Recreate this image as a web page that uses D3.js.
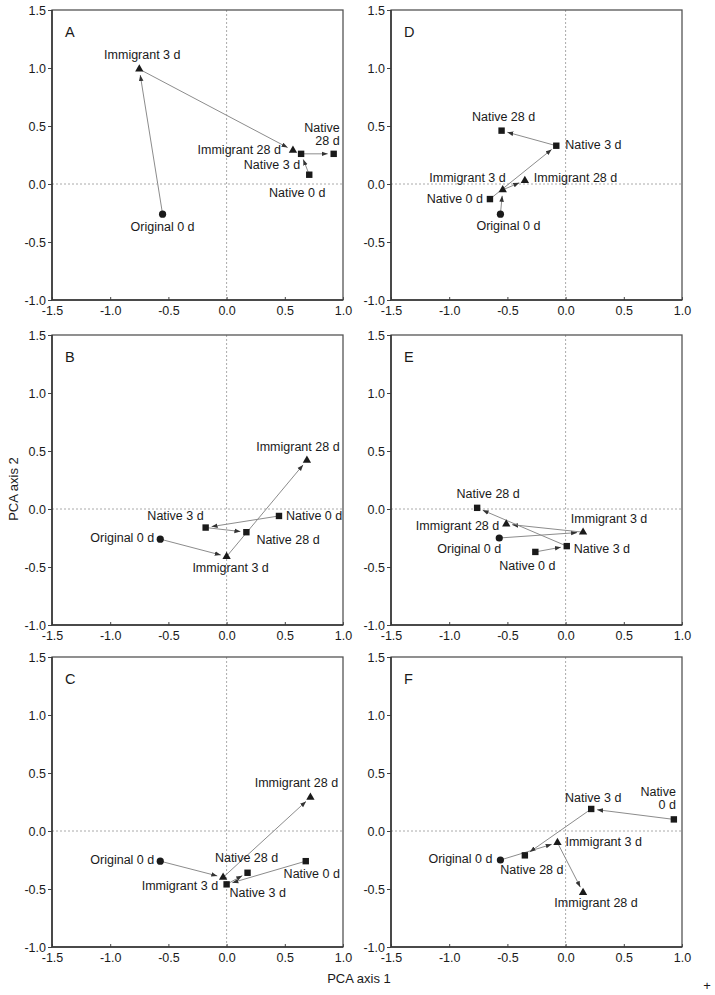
<!DOCTYPE html>
<html>
<head>
<meta charset="utf-8">
<script src="https://cdn.jsdelivr.net/npm/d3@7"></script>
<style>
  html, body { margin: 0; padding: 0; background: #fff; }
  svg { display: block; }
  text { font-family: "Liberation Sans", Arial, Helvetica, sans-serif; fill: #1a1a1a; }
</style>
</head>
<body>
<script>
// ---------------- data ----------------
const panelNames = ["A", "B", "C", "D", "E", "F"];
const sampleNames = ["Original 0 d", "Immigrant 3 d", "Immigrant 28 d", "Native 0 d", "Native 3 d", "Native 28 d"];
const sampleGroup = ["Original", "Immigrant", "Immigrant", "Native", "Native", "Native"];
// order of points: Original 0 d, Immigrant 3 d, Immigrant 28 d, Native 0 d, Native 3 d, Native 28 d
const axis1A = [-0.55, -0.75, 0.57, 0.71, 0.64, 0.92];
const axis2A = [-0.26, 0.99, 0.29, 0.08, 0.26, 0.26];
const axis1B = [-0.57, 0.00, 0.69, 0.45, -0.18, 0.17];
const axis2B = [-0.26, -0.41, 0.42, -0.06, -0.16, -0.20];
const axis1C = [-0.57, -0.03, 0.72, 0.68, 0.00, 0.18];
const axis2C = [-0.26, -0.40, 0.29, -0.26, -0.46, -0.36];
const axis1D = [-0.56, -0.54, -0.35, -0.65, -0.08, -0.55];
const axis2D = [-0.26, -0.05, 0.03, -0.13, 0.33, 0.46];
const axis1E = [-0.57, 0.15, -0.51, -0.26, 0.01, -0.76];
const axis2E = [-0.25, -0.20, -0.13, -0.37, -0.32, 0.01];
const axis1F = [-0.56, -0.07, 0.15, 0.93, 0.22, -0.35];
const axis2F = [-0.25, -0.10, -0.53, 0.10, 0.19, -0.21];
// trajectories: from index -> to index
const arrowPairs = [[0, 1], [1, 2], [3, 4], [4, 5]];
const xTicks = [-1.5, -1.0, -0.5, 0.0, 0.5, 1.0];
const yTicks = [-1.0, -0.5, 0.0, 0.5, 1.0, 1.5];
const xDomain = [-1.5, 1.0];
const yDomain = [-1.0, 1.5];
const xTitle = "PCA axis 1";
const yTitle = "PCA axis 2";

// ---------------- layout (label placement: anchor, dx, dy, wrap) ----------------
const labelLayout = {
  A: [["middle", 0, 17], ["middle", 3, -10], ["end", -12, 4], ["middle", -12, 22], ["end", -1, 15], ["end", 6, -9, true]],
  B: [["end", -6, 3], ["middle", 4, 15], ["middle", -9, -9], ["start", 7, 4], ["end", -2, -8], ["start", 10, 12]],
  C: [["end", -6, 3], ["end", -5, 13], ["middle", -14, -10], ["middle", 6, 17], ["start", 3, 13], ["middle", -1, -11]],
  D: [["middle", 8, 16], ["end", 3, -8], ["start", 9, 1], ["end", -7, 4], ["start", 9, 3], ["middle", 2, -10]],
  E: [["end", 2, 15], ["middle", 26, -9], ["end", -7, 6], ["middle", -8, 18], ["start", 7, 7], ["middle", 11, -10]],
  F: [["end", -8, 3], ["start", 8, 3], ["middle", 13, 15], ["end", 2, -10, true], ["middle", 2, -7], ["middle", 7, 19]]
};
const panelX = { A: 52, B: 52, C: 52, D: 391, E: 391, F: 391 };
const panelY = { A: 10, B: 335, C: 657, D: 10, E: 335, F: 657 };
const plotW = 291, plotH = 290;

const coords = {
  A: [axis1A, axis2A], B: [axis1B, axis2B], C: [axis1C, axis2C],
  D: [axis1D, axis2D], E: [axis1E, axis2E], F: [axis1F, axis2F]
};

// ---------------- drawing ----------------
const W = 715, H = 995;
const svg = d3.select("body").append("svg").attr("width", W).attr("height", H);

svg.append("defs").append("marker")
  .attr("id", "arrowhead")
  .attr("markerUnits", "userSpaceOnUse")
  .attr("viewBox", "0 -3 6 6")
  .attr("refX", 6).attr("refY", 0)
  .attr("markerWidth", 6).attr("markerHeight", 6)
  .attr("orient", "auto")
  .append("path").attr("d", "M0,-2.3L6,0L0,2.3Z").attr("fill", "#333");

const fontTick = 12.5, fontLabel = 12.5, wrapGap = 13;

panelNames.forEach(p => {
  const x0 = panelX[p], y0 = panelY[p];
  const x = d3.scaleLinear().domain(xDomain).range([x0, x0 + plotW]);
  const y = d3.scaleLinear().domain(yDomain).range([y0 + plotH, y0]);
  const g = svg.append("g");

  // zero reference lines
  g.append("line").attr("x1", x(0)).attr("x2", x(0)).attr("y1", y0).attr("y2", y0 + plotH)
    .attr("stroke", "#aaa").attr("stroke-width", 1).attr("stroke-dasharray", "2,2");
  g.append("line").attr("x1", x0).attr("x2", x0 + plotW).attr("y1", y(0)).attr("y2", y(0))
    .attr("stroke", "#aaa").attr("stroke-width", 1).attr("stroke-dasharray", "2,2");

  // axes
  const xAxis = d3.axisBottom(x).tickValues(xTicks).tickFormat(d3.format(".1f")).tickSize(-3).tickPadding(6);
  const yAxis = d3.axisLeft(y).tickValues(yTicks).tickFormat(d3.format(".1f")).tickSize(4).tickPadding(2);
  const gx = g.append("g").attr("transform", `translate(0,${y0 + plotH})`).call(xAxis);
  const gy = g.append("g").attr("transform", `translate(${x0},0)`).call(yAxis);
  [gx, gy].forEach(a => {
    a.select(".domain").remove();
    a.selectAll(".tick line").attr("stroke", "#444").attr("stroke-width", 1);
    a.selectAll(".tick text").attr("font-size", fontTick).attr("fill", "#1a1a1a")
      .style("font-family", '"Liberation Sans", Arial, sans-serif');
  });
  gx.selectAll(".tick text").attr("dy", "0.95em").attr("y", 3);
  gy.selectAll(".tick text").attr("dy", "0.35em");
  // format minus as hyphen like reference
  g.selectAll(".tick text").text(d => d3.format(".1f")(d).replace("−", "-"));

  // frame
  g.append("rect").attr("x", x0).attr("y", y0).attr("width", plotW).attr("height", plotH)
    .attr("fill", "none").attr("stroke", "#555").attr("stroke-width", 1.3);
  g.append("path").attr("d", `M${x0},${y0}V${y0 + plotH}H${x0 + plotW}`)
    .attr("fill", "none").attr("stroke", "#333").attr("stroke-width", 1.5);

  // panel letter
  g.append("text").attr("x", x0 + 13).attr("y", y0 + 27).attr("font-size", 14.5).text(p);

  const xs = coords[p][0], ys = coords[p][1];
  const pts = xs.map((v, i) => ({ px: x(v), py: y(ys[i]), i }));

  // arrows
  arrowPairs.forEach(([a, b]) => {
    const s = pts[a], t = pts[b];
    const dx = t.px - s.px, dy = t.py - s.py;
    const len = Math.hypot(dx, dy);
    const shorten = 6;
    const ex = t.px - dx / len * shorten, ey = t.py - dy / len * shorten;
    g.append("line").attr("x1", s.px).attr("y1", s.py).attr("x2", ex).attr("y2", ey)
      .attr("stroke", "#8c8c8c").attr("stroke-width", 1)
      .attr("marker-end", "url(#arrowhead)");
  });

  // markers
  pts.forEach(d => {
    const grp = sampleGroup[d.i];
    if (grp === "Original") {
      g.append("circle").attr("cx", d.px).attr("cy", d.py).attr("r", 3.6).attr("fill", "#1a1a1a");
    } else if (grp === "Immigrant") {
      g.append("path").attr("d", d3.symbol(d3.symbolTriangle, 30)())
        .attr("transform", `translate(${d.px},${d.py})`).attr("fill", "#1a1a1a");
    } else {
      g.append("rect").attr("x", d.px - 3.2).attr("y", d.py - 3.2).attr("width", 6.4).attr("height", 6.4)
        .attr("fill", "#1a1a1a");
    }
  });

  // labels
  pts.forEach(d => {
    const [anchor, ldx, ldy, wrap] = labelLayout[p][d.i];
    const name = sampleNames[d.i];
    const t = g.append("text").attr("font-size", fontLabel).attr("text-anchor", anchor);
    if (wrap) {
      const k = name.indexOf(" ");
      t.append("tspan").attr("x", d.px + ldx).attr("y", d.py + ldy - wrapGap).text(name.slice(0, k));
      t.append("tspan").attr("x", d.px + ldx).attr("y", d.py + ldy).text(name.slice(k + 1));
    } else {
      t.attr("x", d.px + ldx).attr("y", d.py + ldy).text(name);
    }
  });
});

// axis titles
svg.append("text").attr("x", 359).attr("y", 983).attr("text-anchor", "middle")
  .attr("font-size", 13).text(xTitle);
svg.append("text").attr("transform", "translate(18,489) rotate(-90)").attr("text-anchor", "middle")
  .attr("font-size", 13).text(yTitle);
svg.append("text").attr("x", 707).attr("y", 990).attr("text-anchor", "middle")
  .attr("font-size", 13).text("+");
</script>
</body>
</html>
